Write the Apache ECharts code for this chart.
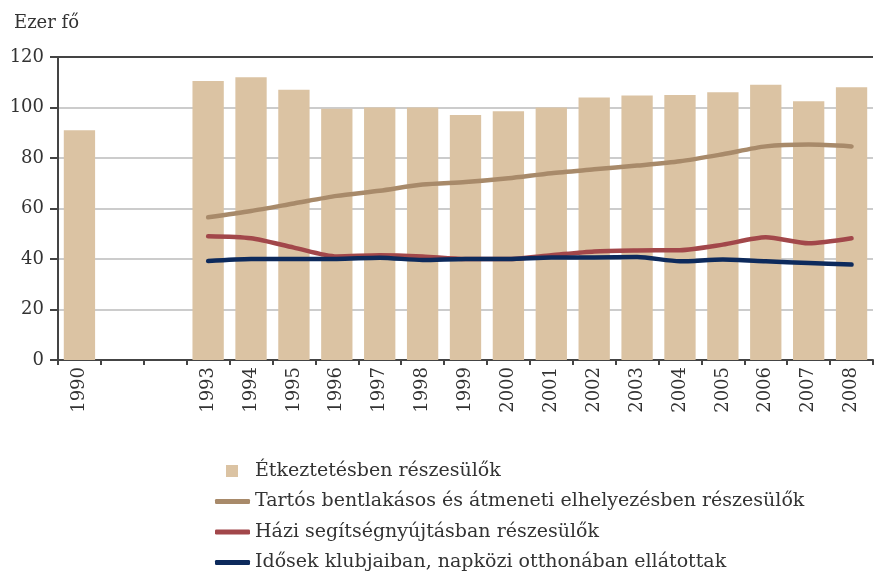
<!DOCTYPE html>
<html>
<head>
<meta charset="utf-8">
<script src="https://cdn.jsdelivr.net/npm/echarts@6/dist/echarts.min.js"></script>
<style>
html, body { margin: 0; padding: 0; background: #fff; }
#chart { width: 876px; height: 574px; }
</style>
</head>
<body>
<div id="chart"></div>
<script>
var years = ['1990','1991','1992','1993','1994','1995','1996','1997','1998','1999',
	'2000','2001','2002','2003','2004','2005','2006','2007','2008'];
var hiddenYears = ['1991','1992'];
var etkeztetes = [91, null, null, 110.5, 112, 107, 99.5, 100, 100, 97, 98.5, 100, 104, 104.8, 105, 106, 109, 102.5, 108];
var tartos = [null, null, null, 56.5, 59, 62, 65, 67, 69.5, 70.5, 72, 74, 75.5, 77, 78.7, 81.5, 84.6, 85.3, 84.6];
var hazi = [null, null, null, 49, 48.2, 44.5, 41, 41.5, 41, 40, 40, 41.5, 43, 43.4, 43.5, 45.7, 48.6, 46.2, 48.2];
var klub = [null, null, null, 39.2, 40, 40, 40, 40.5, 39.6, 40, 40, 40.6, 40.6, 40.8, 39.1, 39.8, 39.1, 38.4, 37.8];
var names = ['Étkeztetésben részesülők', 'Tartós bentlakásos és átmeneti elhelyezésben részesülők',
	'Házi segítségnyújtásban részesülők', 'Idősek klubjaiban, napközi otthonában ellátottak'];

var font = 'DejaVu Serif, Liberation Serif, serif';
var chart = echarts.init(document.getElementById('chart'));

function lineSeries(name, data, color){
	return {
		name: name,
		type: 'line',
		data: data,
		symbol: 'none',
		smooth: 0.25,
		z: 5,
		lineStyle: { color: color, width: 4.5, cap: 'round', join: 'round' },
		itemStyle: { color: color }
	};
}

// one legend per row, so that nothing wraps
var legends = names.map(function(n, i){
	return {
		data: [i == 0 ? { name: n, icon: 'path://M0,0 M35,0 M11,0 L23,0 L23,12 L11,12 Z' } : { name: n, icon: 'roundRect' }],
		left: 210,
		top: 455 + i * 30.5,
		itemWidth: 35,
		itemHeight: i == 0 ? 12 : 5,
		textStyle: { fontFamily: font, fontSize: 19, lineHeight: 22, color: '#333' }
	};
});

chart.setOption({
	animation: false,
	title: {
		text: 'Ezer fő',
		left: 9,
		top: 9,
		textStyle: { fontFamily: font, fontSize: 18, fontWeight: 'normal', color: '#333' }
	},
	grid: { left: 58, right: 3, top: 57, bottom: 214 },
	legend: legends,
	xAxis: {
		type: 'category',
		data: years,
		axisLine: { lineStyle: { color: '#444', width: 2 } },
		axisTick: { show: true, length: 5, lineStyle: { color: '#444', width: 2 } },
		axisLabel: {
			rotate: 90,
			margin: 7,
			interval: 0,
			fontFamily: font,
			fontSize: 18,
			color: '#333',
			formatter: function(v){ return hiddenYears.indexOf(v) >= 0 ? '' : v; }
		}
	},
	yAxis: {
		type: 'value',
		min: 0,
		max: 120,
		interval: 20,
		axisLine: { show: true, lineStyle: { color: '#444', width: 2 } },
		axisTick: { show: true, length: 8, lineStyle: { color: '#444', width: 2 } },
		axisLabel: { fontFamily: font, fontSize: 18, color: '#333', margin: 14 },
		splitLine: { lineStyle: { color: ['#ccc','#ccc','#ccc','#ccc','#ccc','#ccc','#444'], width: 2 } }
	},
	series: [
		{
			name: names[0],
			type: 'bar',
			data: etkeztetes,
			barCategoryGap: '27%',
			itemStyle: { color: '#dbc3a3' }
		},
		lineSeries(names[1], tartos, '#a88a6a'),
		lineSeries(names[2], hazi, '#a2474a'),
		lineSeries(names[3], klub, '#0d2a5c')
	]
});
</script>
</body>
</html>
